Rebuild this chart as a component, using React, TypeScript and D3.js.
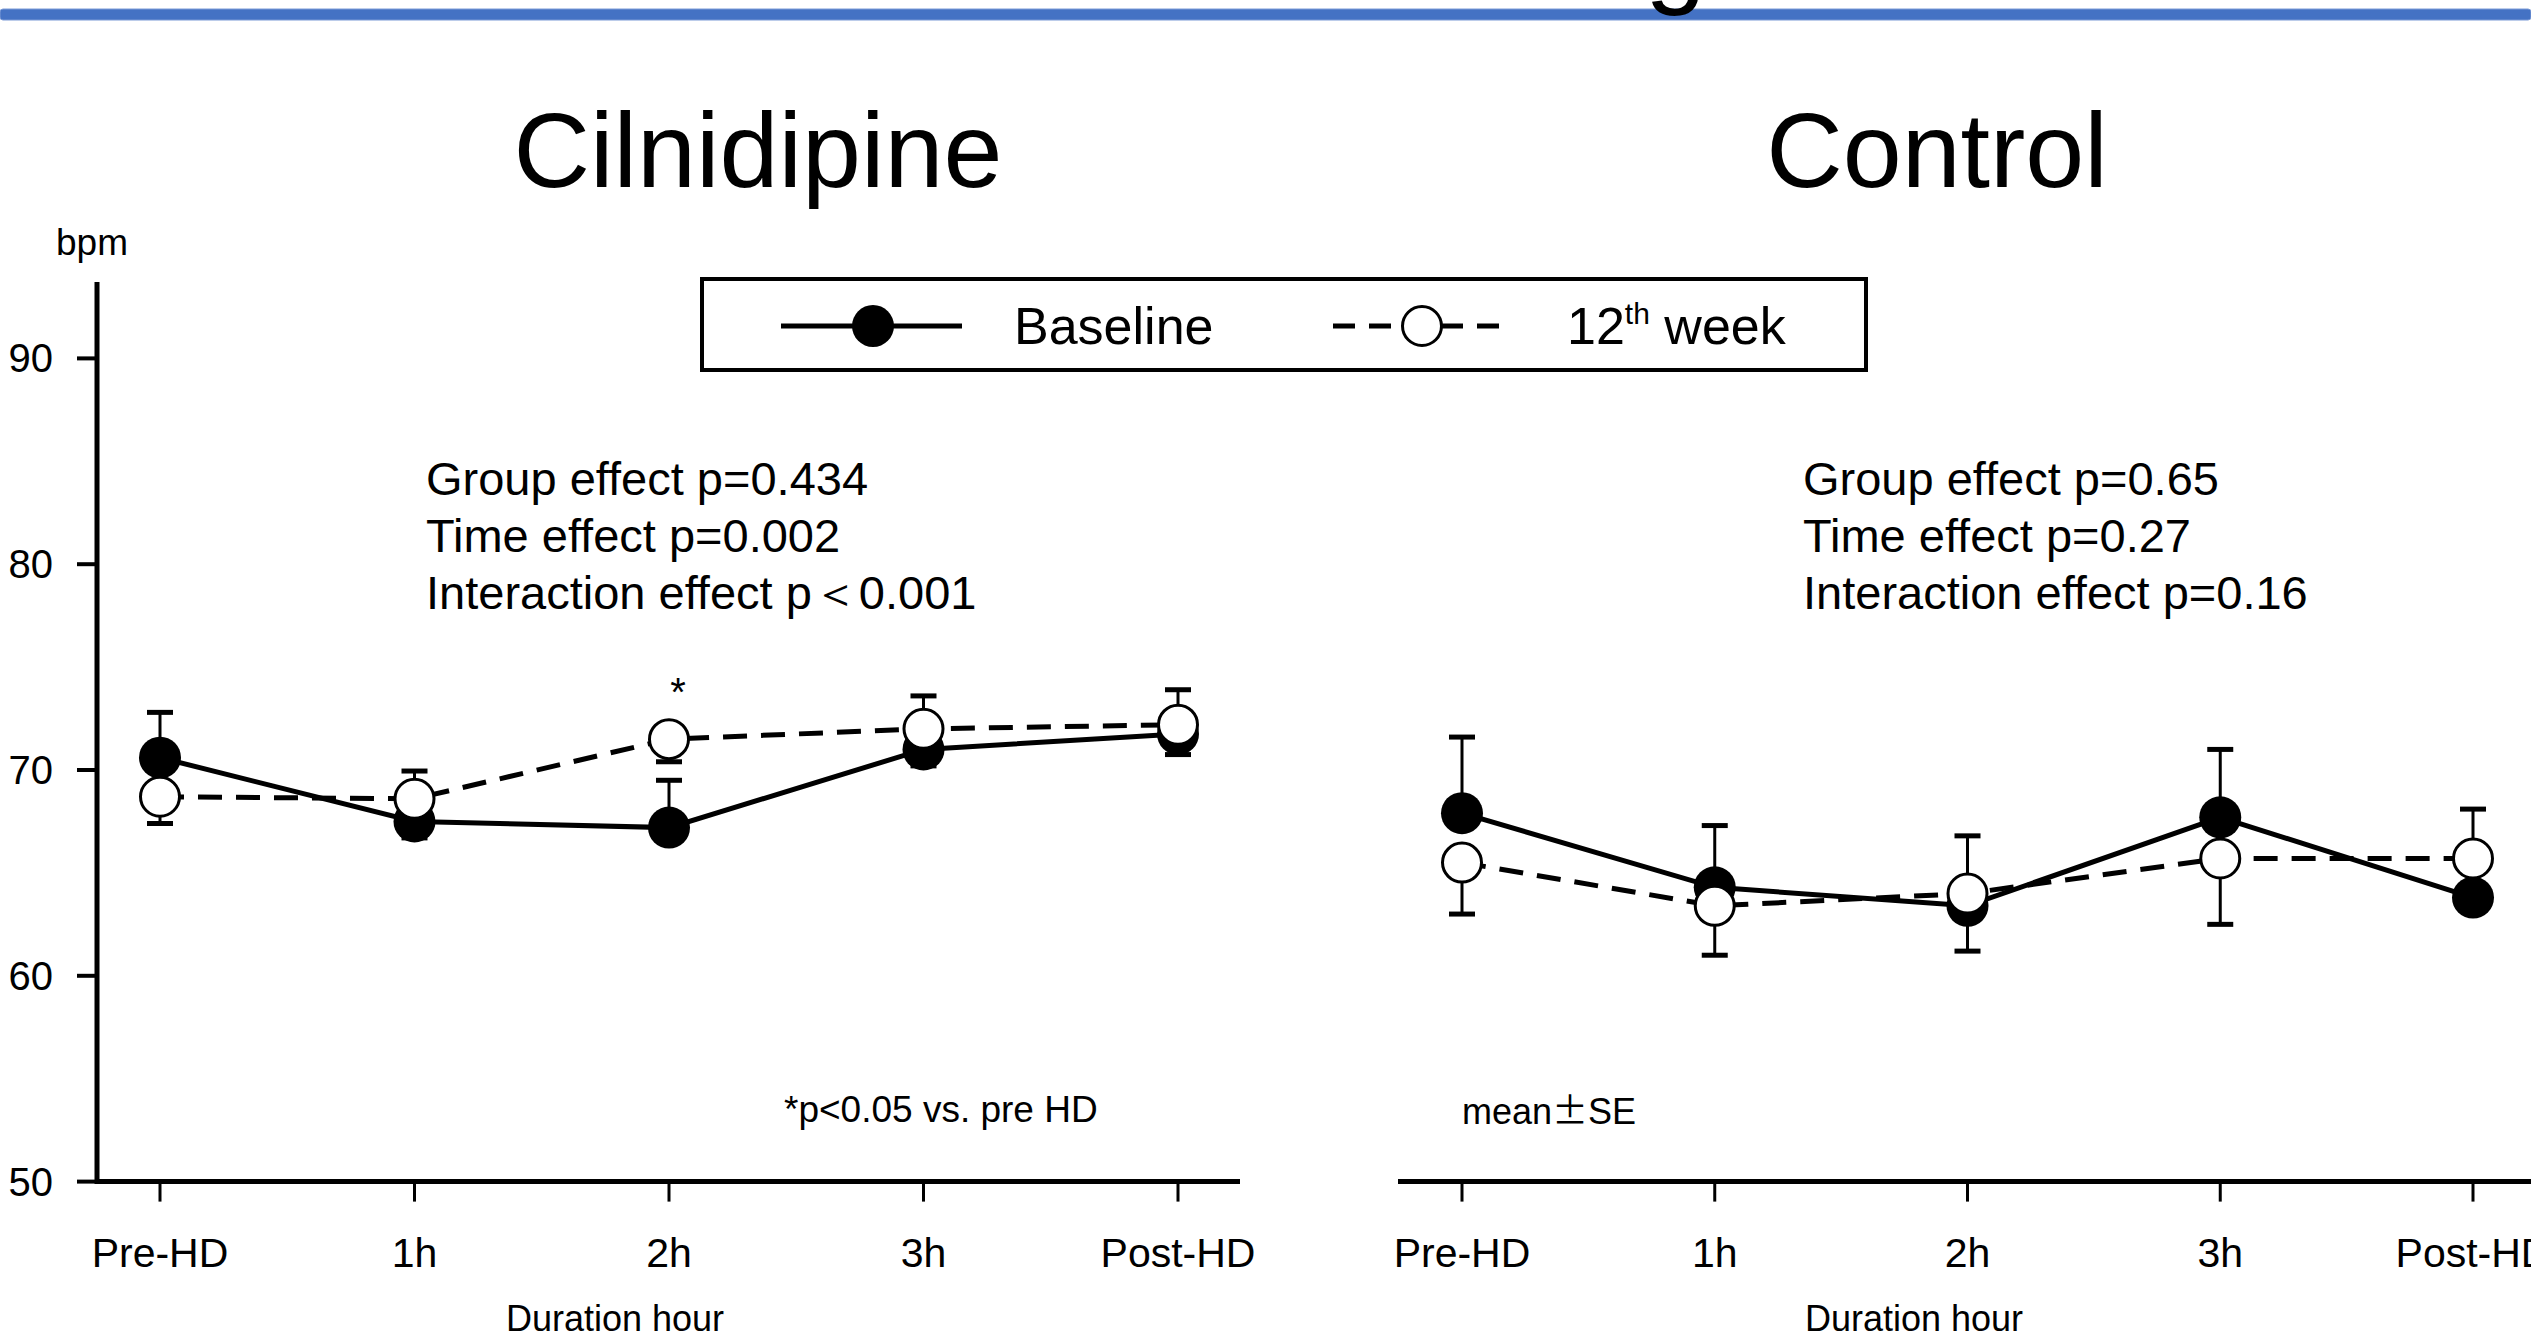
import * as d3 from 'd3';

const TIMEPOINTS = ['Pre-HD', '1h', '2h', '3h', 'Post-HD'];
const Y_TICKS = [50, 60, 70, 80, 90];

// Cilnidipine group (bpm)
const CIL_BASELINE = [70.6, 67.5, 67.2, 71.0, 71.75];
const CIL_BASELINE_SE = [2.2, 0.8, 2.3, 0.8, 1.0];
const CIL_BASELINE_DIR = [1, -1, 1, -1, -1];
const CIL_WEEK12 = [68.7, 68.6, 71.5, 72.0, 72.2];
const CIL_WEEK12_SE = [1.3, 1.35, 1.1, 1.6, 1.7];
const CIL_WEEK12_DIR = [-1, 1, -1, 1, 1];

// Control group (bpm)
const CTRL_BASELINE = [67.9, 64.3, 63.4, 67.7, 63.8];
const CTRL_BASELINE_SE = [3.7, 3.0, 2.2, 3.3, 1.5];
const CTRL_BASELINE_DIR = [1, 1, -1, 1, 1];
const CTRL_WEEK12 = [65.5, 63.4, 64.0, 65.7, 65.7];
const CTRL_WEEK12_SE = [2.5, 2.4, 2.8, 3.2, 2.4];
const CTRL_WEEK12_DIR = [-1, -1, 1, -1, 1];

const CIL_STATS = ['Group effect p=0.434', 'Time effect p=0.002', 'Interaction effect p\uFF1C0.001'];
const CTRL_STATS = ['Group effect p=0.65', 'Time effect p=0.27', 'Interaction effect p=0.16'];

const W = 2531;
const H = 1339;
const FONT = '"Liberation Sans", Arial, Helvetica, sans-serif';
const R = 21;

const y = d3.scaleLinear().domain([50, 90]).range([1181.6, 358.4]);

interface Series {
    values: number[];
    se: number[];
    dir: number[];
}

function Panel({ x0, x1, ticks, base, week, stats, statsX, title, titleX, axisX0, axisX1, xLabel }: {
    x0: number; x1: number; ticks: string[]; base: Series; week: Series;
    stats: string[]; statsX: number; title: string; titleX: number; axisX0: number; axisX1: number; xLabel: number;
}) {
    const x = d3.scalePoint<string>().domain(ticks).range([x0, x1]);
    const line = d3.line<number>()
        .x((_, i) => x(ticks[i]) as number)
        .y(d => y(d));

    // one-sided SE bars, direction as drawn in the original
    const errBars = (s: Series, key: string) => s.values.map((v, i) => {
        const cx = x(ticks[i]) as number;
        const end = y(v + s.dir[i] * s.se[i]);
        return (
            <g key={key + i}>
                <line x1={cx} x2={cx} y1={y(v)} y2={end} stroke="#000" strokeWidth={3} />
                <line x1={cx - 13} x2={cx + 13} y1={end} y2={end} stroke="#000" strokeWidth={5} />
            </g>
        );
    });

    const axisY = y(50);

    return (
        <g>
            <text x={titleX} y={187} textAnchor="middle" fontSize={106} fontFamily={FONT}>{title}</text>

            {/* x axis */}
            <line x1={axisX0} x2={axisX1} y1={axisY} y2={axisY} stroke="#000" strokeWidth={5} />
            {ticks.map(t => (
                <g key={t}>
                    <line x1={x(t)} x2={x(t)} y1={axisY} y2={axisY + 20} stroke="#000" strokeWidth={3} />
                    <text x={x(t)} y={1267} textAnchor="middle" fontSize={41} fontFamily={FONT}>{t}</text>
                </g>
            ))}
            <text x={xLabel} y={1331} textAnchor="middle" fontSize={36} fontFamily={FONT}>Duration hour</text>

            {stats.map((s, i) => (
                <text key={s} x={statsX} y={495 + i * 57} fontSize={47} fontFamily={FONT}>{s}</text>
            ))}

            <path d={line(base.values) || ''} fill="none" stroke="#000" strokeWidth={5} />
            <path d={line(week.values) || ''} fill="none" stroke="#000" strokeWidth={5} strokeDasharray="24 14" />

            {errBars(base, 'b')}
            {errBars(week, 'w')}

            {base.values.map((v, i) => (
                <circle key={'bc' + i} cx={x(ticks[i])} cy={y(v)} r={R} fill="#000" />
            ))}
            {week.values.map((v, i) => (
                <circle key={'wc' + i} cx={x(ticks[i])} cy={y(v)} r={R - 1.5} fill="#fff" stroke="#000" strokeWidth={3} />
            ))}
        </g>
    );
}

export default function App() {
    return (
        <svg width={W} height={H} viewBox={`0 0 ${W} ${H}`}
            style={{ position: 'absolute', left: 0, top: 0, background: '#fff' }}>
            <rect x={0} y={0} width={W} height={H} fill="#fff" />

            {/* banner from the slide above */}
            <rect x={0} y={9} width={W} height={11} rx={3} fill="#4472C4" stroke="#7b9ad6" strokeWidth={1} />
            <text x={1645} y={-7} fontSize={110} fontFamily={FONT}>g</text>

            {/* y axis (shared) */}
            <text x={56} y={255} fontSize={37} fontFamily={FONT}>bpm</text>
            <line x1={97} x2={97} y1={282} y2={y(50) + 2.5} stroke="#000" strokeWidth={5} />
            {Y_TICKS.map(t => (
                <g key={t}>
                    <line x1={77} x2={97} y1={y(t)} y2={y(t)} stroke="#000" strokeWidth={4} />
                    <text x={53} y={y(t) + 14} textAnchor="end" fontSize={40} fontFamily={FONT}>{t}</text>
                </g>
            ))}

            <Panel x0={160} x1={1178} ticks={TIMEPOINTS}
                base={{ values: CIL_BASELINE, se: CIL_BASELINE_SE, dir: CIL_BASELINE_DIR }}
                week={{ values: CIL_WEEK12, se: CIL_WEEK12_SE, dir: CIL_WEEK12_DIR }}
                stats={CIL_STATS} statsX={426} title="Cilnidipine" titleX={758}
                axisX0={97} axisX1={1240} xLabel={615} />

            <Panel x0={1462} x1={2473} ticks={TIMEPOINTS}
                base={{ values: CTRL_BASELINE, se: CTRL_BASELINE_SE, dir: CTRL_BASELINE_DIR }}
                week={{ values: CTRL_WEEK12, se: CTRL_WEEK12_SE, dir: CTRL_WEEK12_DIR }}
                stats={CTRL_STATS} statsX={1803} title="Control" titleX={1937}
                axisX0={1398} axisX1={W + 10} xLabel={1914} />

            {/* annotations */}
            <text x={678} y={706} textAnchor="middle" fontSize={40} fontFamily={FONT}>*</text>
            <text x={784} y={1122} fontSize={37} fontFamily={FONT}>*p&lt;0.05 vs. pre HD</text>
            <text x={1462} y={1124} fontSize={36} fontFamily={FONT}>
                mean<tspan fontFamily='"Noto Sans CJK JP"'>±</tspan>SE
            </text>

            {/* legend */}
            <rect x={702} y={279} width={1164} height={91} fill="#fff" stroke="#000" strokeWidth={4} />
            <line x1={781} x2={962} y1={326} y2={326} stroke="#000" strokeWidth={5} />
            <circle cx={873} cy={326} r={R} fill="#000" />
            <text x={1014} y={344} fontSize={52} fontFamily={FONT}>Baseline</text>
            <line x1={1333} x2={1509} y1={326} y2={326} stroke="#000" strokeWidth={5} strokeDasharray="22 14" />
            <circle cx={1422} cy={326} r={R - 1.5} fill="#fff" stroke="#000" strokeWidth={3} />
            <text x={1567} y={344} fontSize={52} fontFamily={FONT}>
                12<tspan fontSize={30} dy={-20}>th</tspan><tspan dy={20}> week</tspan>
            </text>
        </svg>
    );
}
